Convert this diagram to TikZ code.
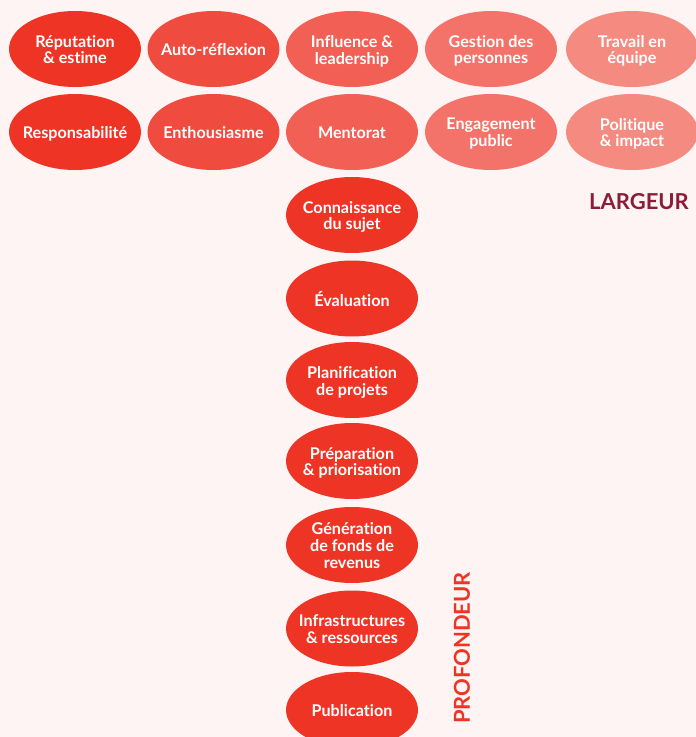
\documentclass[tikz,border=0pt]{standalone}
\usepackage{fontspec}
\setmainfont{Lato}[Ligatures=NoCommon]
\usepackage{xcolor}
\usepackage{tikz}
\usetikzlibrary{shapes.geometric, positioning}
\definecolor{skbg}{RGB}{254,244,243}
\definecolor{skred}{RGB}{238,53,37}
\definecolor{sktwo}{RGB}{240,75,63}
\definecolor{skthree}{RGB}{241,95,85}
\definecolor{skfour}{RGB}{243,115,106}
\definecolor{skfive}{RGB}{245,138,128}
\definecolor{skwine}{RGB}{140,28,60}
\newcommand{\sklbl}[1]{\makebox[0pt]{\raisebox{-0.06cm}[\height][\depth]{\begin{tabular}{@{}c@{}}#1\end{tabular}}}}

\begin{document}
\begin{tikzpicture}[
  x=0.02cm, y=-0.02cm,
  every node/.style={font=\fontsize{9.2}{9.3}\selectfont\bfseries},
  skill/.style={ellipse, draw=none, fill=skred, text=white,
                minimum width=2.64cm, minimum height=1.52cm, inner sep=0pt},
  axis/.style={font=\fontsize{12.5}{13}\selectfont\bfseries},
]
\fill[skbg] (0,0) rectangle (696,737);
\useasboundingbox (0,0) rectangle (696,737);
\clip (0,0) rectangle (696,737);

% Breadth: first row
\node[skill] (rep)  at (75,49)    {\sklbl{Réputation\\\& estime}};
\node[skill, fill=sktwo]   (auto) at (213.5,49) {\sklbl{Auto-réflexion}};
\node[skill, fill=skthree] (infl) at (352,49)   {\sklbl{Influence \&\\leadership}};
\node[skill, fill=skfour]  (gest) at (491,49)   {\sklbl{Gestion des\\personnes}};
\node[skill, fill=skfive]  (trav) at (632,49)   {\sklbl{Travail en\\équipe}};

% Breadth: second row
\node[skill] (resp) at (75,132)    {\sklbl{Responsabilité}};
\node[skill, fill=sktwo]   (enth) at (213.5,132) {\sklbl{Enthousiasme}};
\node[skill, fill=skthree] (ment) at (352,132)   {\sklbl{Mentorat}};
\node[skill, fill=skfour]  (enga) at (491,132)   {\sklbl{Engagement\\public}};
\node[skill, fill=skfive]  (poli) at (632,132)   {\sklbl{Politique\\\& impact}};

% Depth: column
\node[skill] (conn) at (352,215)   {\sklbl{Connaissance\\du sujet}};
\node[skill] (eval) at (352,298.5) {\sklbl{Évaluation}};
\node[skill] (plan) at (352,380)   {\sklbl{Planification\\de projets}};
\node[skill] (prep) at (352,461)   {\sklbl{Préparation\\\& priorisation}};
\node[skill] (gene) at (352,545)   {\sklbl{Génération\\de fonds de\\revenus}};
\node[skill] (infr) at (352,628.5) {\sklbl{Infrastructures\\\& ressources}};
\node[skill] (publ) at (352,710)   {\sklbl{Publication}};

% Axis labels
\node[axis, text=skwine] (largeur) at (639,202) {LARGEUR};
\node[axis, text=skred, rotate=90] (profondeur) at (462,648) {PROFONDEUR};

\end{tikzpicture}
\end{document}
